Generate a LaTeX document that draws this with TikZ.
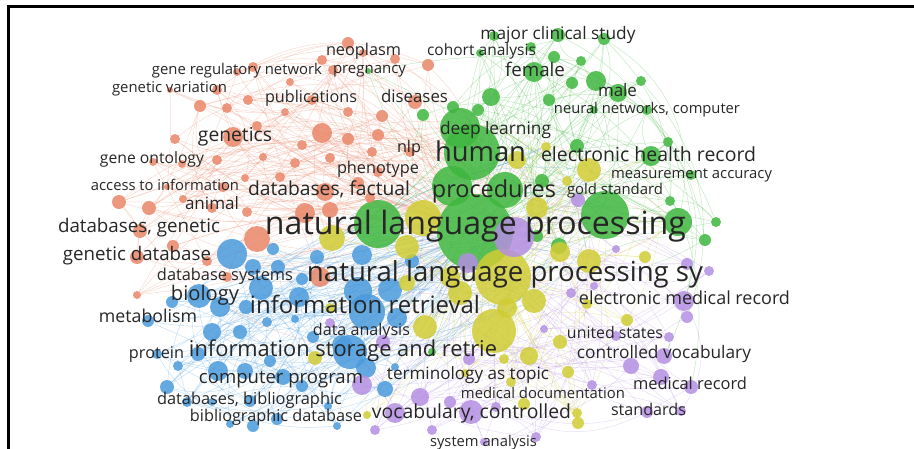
\documentclass[tikz,border=0pt]{standalone}
\usepackage{fontspec}
\setmainfont{Open Sans}
\usepackage{graphicx}
\usetikzlibrary{backgrounds}

\definecolor{cO}{RGB}{233,134,104}
\definecolor{cG}{RGB}{62,182,62}
\definecolor{cB}{RGB}{74,154,220}
\definecolor{cY}{RGB}{208,204,52}
\definecolor{cP}{RGB}{180,142,226}
\definecolor{lblc}{RGB}{38,38,38}

% bubble: name, colour, x, y, radius
\newcommand\bb[5]{\node[bub,fill=#2,minimum size=#5*2pt] (#1) at (#3,#4) {};}
% label: name, x, baseline y, width, text
\newcommand\lb[5]{\node[lbl] (#1) at (#2,#3) {\resizebox{#4pt}{!}{#5}};}
% link from a node to a random member of a group (prefix, count)
\newcommand\randlink[4]{%
  \pgfmathrandominteger{\rk}{1}{#3}%
  \pgfmathsetmacro\bnd{rand*32}%
  \draw[link,#4] (#1) to[bend left=\bnd] (#2\rk);}

\begin{document}
\begin{tikzpicture}[x=1pt,y=-1pt,
  bub/.style={circle,inner sep=0pt,draw=none,fill opacity=0.85},
  lbl/.style={inner sep=0pt,anchor=base,text=lblc},
  link/.style={line width=0.5pt,opacity=0.3}]
\useasboundingbox (0,0) rectangle (914,449);

% ---------- green cluster ----------
\bb{g1}{cG}{475}{232}{38}
\bb{g2}{cG}{472}{152}{28}
\bb{g3}{cG}{460}{128}{20}
\bb{g4}{cG}{452}{186}{20}
\bb{g5}{cG}{378}{224}{24}
\bb{g6}{cG}{605}{215}{24}
\bb{g7}{cG}{678}{222}{14}
\bb{g8}{cG}{505}{190}{18}
\bb{g9}{cG}{651}{156}{10}
\bb{g10}{cG}{577}{146}{7}
\bb{g11}{cG}{668}{142}{5}
\bb{g12}{cG}{670}{201}{5}
\bb{g13}{cG}{691}{175}{5}
\bb{g14}{cG}{705}{240}{6}
\bb{g15}{cG}{716}{222}{5}
\bb{g16}{cG}{494}{36}{5}
\bb{g17}{cG}{558}{35}{7}
\bb{g18}{cG}{604}{39}{6}
\bb{g19}{cG}{480}{53}{4}
\bb{g20}{cG}{531}{47}{5}
\bb{g21}{cG}{554}{57}{6}
\bb{g22}{cG}{581}{61}{5}
\bb{g23}{cG}{534}{72}{10}
\bb{g24}{cG}{572}{83}{6}
\bb{g25}{cG}{596}{81}{10}
\bb{g26}{cG}{641}{81}{5}
\bb{g27}{cG}{618}{93}{9}
\bb{g28}{cG}{549}{100}{6}
\bb{g29}{cG}{491}{97}{9}
\bb{g30}{cG}{478}{110}{6}
\bb{g31}{cG}{423}{115}{6}
\bb{g32}{cG}{453}{107}{6}
\bb{g33}{cG}{647}{110}{5}
\bb{g34}{cG}{594}{110}{4}
\bb{g35}{cG}{559}{246}{8}
\bb{g36}{cG}{537}{236}{6}
\bb{g37}{cG}{368}{71}{3}
\bb{g38}{cG}{432}{352}{4}
\bb{g39}{cG}{542}{181}{7}

% ---------- orange cluster ----------
\bb{o1}{cO}{348}{43}{6}
\bb{o2}{cO}{322}{60}{5}
\bb{o3}{cO}{363}{53}{4}
\bb{o4}{cO}{395}{59}{5}
\bb{o5}{cO}{428}{65}{6}
\bb{o6}{cO}{333}{70}{5}
\bb{o7}{cO}{290}{82}{4}
\bb{o8}{cO}{253}{67}{5}
\bb{o9}{cO}{237}{72}{4}
\bb{o10}{cO}{170}{90}{3}
\bb{o11}{cO}{217}{90}{5}
\bb{o12}{cO}{200}{106}{6}
\bb{o13}{cO}{227}{108}{5}
\bb{o14}{cO}{248}{100}{5}
\bb{o15}{cO}{285}{112}{4}
\bb{o16}{cO}{312}{100}{5}
\bb{o17}{cO}{348}{112}{5}
\bb{o18}{cO}{382}{116}{6}
\bb{o19}{cO}{415}{102}{7}
\bb{o20}{cO}{378}{135}{6}
\bb{o21}{cO}{322}{133}{10}
\bb{o22}{cO}{348}{139}{6}
\bb{o23}{cO}{302}{145}{5}
\bb{o24}{cO}{257}{126}{5}
\bb{o25}{cO}{233}{137}{10}
\bb{o26}{cO}{175}{139}{5}
\bb{o27}{cO}{217}{160}{5}
\bb{o28}{cO}{182}{164}{4}
\bb{o29}{cO}{153}{162}{4}
\bb{o30}{cO}{263}{157}{4}
\bb{o31}{cO}{295}{163}{5}
\bb{o32}{cO}{330}{158}{5}
\bb{o33}{cO}{372}{152}{5}
\bb{o34}{cO}{410}{152}{5}
\bb{o35}{cO}{378}{172}{5}
\bb{o36}{cO}{358}{183}{6}
\bb{o37}{cO}{280}{177}{5}
\bb{o38}{cO}{245}{178}{4}
\bb{o39}{cO}{223}{187}{5}
\bb{o40}{cO}{167}{187}{3}
\bb{o41}{cO}{325}{192}{9}
\bb{o42}{cO}{370}{198}{5}
\bb{o43}{cO}{183}{199}{4}
\bb{o44}{cO}{119}{202}{7}
\bb{o45}{cO}{149}{208}{7}
\bb{o46}{cO}{212}{208}{5}
\bb{o47}{cO}{247}{212}{5}
\bb{o48}{cO}{305}{213}{10}
\bb{o49}{cO}{330}{210}{8}
\bb{o50}{cO}{140}{231}{7}
\bb{o51}{cO}{173}{246}{6}
\bb{o52}{cO}{257}{239}{13}
\bb{o53}{cO}{137}{257}{7}
\bb{o54}{cO}{207}{261}{5}
\bb{o55}{cO}{227}{277}{5}
\bb{o56}{cO}{137}{295}{4}
\bb{o57}{cO}{320}{277}{10}

% ---------- blue cluster ----------
\bb{b1}{cB}{232}{254}{15}
\bb{b2}{cB}{273}{249}{6}
\bb{b3}{cB}{317}{257}{7}
\bb{b4}{cB}{362}{255}{10}
\bb{b5}{cB}{412}{261}{7}
\bb{b6}{cB}{253}{267}{8}
\bb{b7}{cB}{278}{267}{7}
\bb{b8}{cB}{302}{279}{6}
\bb{b9}{cB}{261}{288}{12}
\bb{b10}{cB}{199}{296}{12}
\bb{b11}{cB}{220}{307}{10}
\bb{b12}{cB}{172}{302}{6}
\bb{b13}{cB}{246}{307}{7}
\bb{b14}{cB}{299}{297}{10}
\bb{b15}{cB}{358}{291}{14}
\bb{b16}{cB}{390}{290}{12}
\bb{b17}{cB}{367}{312}{18}
\bb{b18}{cB}{397}{318}{10}
\bb{b19}{cB}{267}{322}{5}
\bb{b20}{cB}{295}{319}{4}
\bb{b21}{cB}{148}{321}{6}
\bb{b22}{cB}{212}{332}{9}
\bb{b23}{cB}{240}{332}{7}
\bb{b24}{cB}{313}{337}{6}
\bb{b25}{cB}{342}{345}{10}
\bb{b26}{cB}{350}{352}{17}
\bb{b27}{cB}{198}{354}{7}
\bb{b28}{cB}{157}{354}{5}
\bb{b29}{cB}{178}{366}{5}
\bb{b30}{cB}{218}{371}{10}
\bb{b31}{cB}{245}{371}{8}
\bb{b32}{cB}{270}{361}{6}
\bb{b33}{cB}{283}{377}{8}
\bb{b34}{cB}{302}{386}{6}
\bb{b35}{cB}{366}{368}{10}
\bb{b36}{cB}{385}{389}{8}
\bb{b37}{cB}{395}{367}{4}
\bb{b38}{cB}{167}{387}{7}
\bb{b39}{cB}{187}{402}{5}
\bb{b40}{cB}{212}{402}{4}
\bb{b41}{cB}{250}{401}{6}
\bb{b42}{cB}{328}{406}{4}
\bb{b43}{cB}{277}{419}{6}
\bb{b44}{cB}{253}{426}{6}
\bb{b45}{cB}{230}{424}{4}
\bb{b46}{cB}{337}{426}{4}

% ---------- yellow cluster ----------
\bb{y1}{cY}{503}{277}{28}
\bb{y2}{cY}{494}{331}{22}
\bb{y3}{cY}{423}{218}{18}
\bb{y4}{cY}{332}{238}{13}
\bb{y5}{cY}{425}{327}{12}
\bb{y6}{cY}{537}{208}{11}
\bb{y7}{cY}{589}{170}{12}
\bb{y8}{cY}{517}{160}{9}
\bb{y9}{cY}{546}{147}{5}
\bb{y10}{cY}{567}{181}{5}
\bb{y11}{cY}{560}{252}{10}
\bb{y12}{cY}{589}{261}{12}
\bb{y13}{cY}{407}{247}{12}
\bb{y14}{cY}{460}{293}{12}
\bb{y15}{cY}{507}{308}{10}
\bb{y16}{cY}{534}{301}{12}
\bb{y17}{cY}{560}{342}{7}
\bb{y18}{cY}{529}{356}{9}
\bb{y19}{cY}{504}{359}{5}
\bb{y20}{cY}{568}{372}{6}
\bb{y21}{cY}{511}{382}{5}
\bb{y22}{cY}{465}{373}{4}
\bb{y23}{cY}{524}{404}{6}
\bb{y24}{cY}{577}{413}{5}
\bb{y25}{cY}{578}{423}{6}
\bb{y26}{cY}{627}{320}{6}
\bb{y27}{cY}{645}{257}{6}
\bb{y28}{cY}{587}{304}{5}
\bb{y29}{cY}{315}{358}{7}
\bb{y30}{cY}{367}{415}{4}
\bb{y31}{cY}{450}{277}{10}
\bb{y32}{cY}{407}{283}{8}
\bb{y33}{cY}{330}{308}{5}

% ---------- purple cluster ----------
\bb{p1}{cP}{514}{237}{20}
\bb{p2}{cP}{468}{263}{10}
\bb{p3}{cP}{578}{200}{7}
\bb{p4}{cP}{616}{249}{4}
\bb{p5}{cP}{687}{264}{6}
\bb{p6}{cP}{709}{271}{5}
\bb{p7}{cP}{594}{286}{4}
\bb{p8}{cP}{571}{293}{5}
\bb{p9}{cP}{684}{301}{10}
\bb{p10}{cP}{687}{317}{6}
\bb{p11}{cP}{544}{329}{4}
\bb{p12}{cP}{616}{336}{5}
\bb{p13}{cP}{669}{337}{5}
\bb{p14}{cP}{664}{356}{8}
\bb{p15}{cP}{631}{366}{8}
\bb{p16}{cP}{592}{385}{5}
\bb{p17}{cP}{661}{377}{8}
\bb{p18}{cP}{691}{387}{7}
\bb{p19}{cP}{469}{359}{6}
\bb{p20}{cP}{496}{407}{5}
\bb{p21}{cP}{471}{412}{12}
\bb{p22}{cP}{647}{412}{6}
\bb{p23}{cP}{681}{411}{5}
\bb{p24}{cP}{536}{437}{5}
\bb{p25}{cP}{484}{442}{4}
\bb{p26}{cP}{420}{397}{9}
\bb{p27}{cP}{450}{402}{6}
\bb{p28}{cP}{395}{413}{10}
\bb{p29}{cP}{383}{342}{7}
\bb{p30}{cP}{330}{323}{5}
\bb{p31}{cP}{362}{385}{10}
\bb{p32}{cP}{375}{430}{5}
\bb{p33}{cP}{432}{430}{5}

% ---------- links, behind the bubbles ----------
\begin{pgfonlayer}{background}
\pgfmathsetseed{17}
\foreach \i in {1,...,57}{
  \pgfmathsetmacro\bnd{rand*28}
  \draw[link,cO] (o\i) to[bend left=\bnd] (g1);
  \randlink{o\i}{o}{57}{cO}
  \randlink{o\i}{o}{57}{cO}
  \randlink{o\i}{g}{8}{cO}
}
\foreach \i in {2,...,39}{
  \pgfmathsetmacro\bnd{rand*30}
  \draw[link,cG] (g\i) to[bend left=\bnd] (g1);
  \randlink{g\i}{g}{39}{cG}
  \randlink{g\i}{g}{39}{cG}
  \randlink{g\i}{y}{12}{cG}
}
\foreach \i in {1,...,46}{
  \pgfmathsetmacro\bnd{rand*25}
  \draw[link,cB] (b\i) to[bend left=\bnd] (g1);
  \randlink{b\i}{b}{46}{cB}
  \randlink{b\i}{b}{46}{cB}
  \randlink{b\i}{y}{16}{cB}
}
\foreach \i in {2,...,33}{
  \pgfmathsetmacro\bnd{rand*25}
  \draw[link,cY] (y\i) to[bend left=\bnd] (y1);
  \randlink{y\i}{y}{33}{cY}
  \randlink{y\i}{g}{10}{cY}
}
\foreach \i in {1,...,33}{
  \pgfmathsetmacro\bnd{rand*25}
  \draw[link,cP] (p\i) to[bend left=\bnd] (g1);
  \randlink{p\i}{p}{33}{cP}
  \randlink{p\i}{p}{33}{cP}
  \randlink{p\i}{y}{20}{cP}
}
% long sweeping arcs
\draw[link,cG] (g17) to[bend left=45] (p14);
\draw[link,cG] (g25) to[bend left=40] (p9);
\draw[link,cG] (g23) to[bend left=38] (p18);
\draw[link,cG] (g18) to[bend left=35] (g7);
\draw[link,cG] (g26) to[bend left=30] (p10);
\draw[link,cG] (g16) to[bend left=25] (y2);
\draw[link,cO] (o1) to[bend right=30] (b17);
\draw[link,cO] (o3) to[bend right=25] (y2);
\draw[link,cO] (o5) to[bend right=20] (p1);
\draw[link,cO] (o44) to[bend right=20] (b26);
\end{pgfonlayer}

% ---------- labels ----------
\lb{l1}{558}{40}{155}{major clinical study}
\lb{l2}{481.5}{56}{109}{cohort analysis}
\lb{l3}{535}{77}{60}{female}
\lb{l4}{617.5}{97}{39}{male}
\lb{l5}{647}{114}{186}{neural networks, computer}
\lb{l6}{495.5}{135}{111}{deep learning}
\lb{l7}{480.5}{162}{91}{human}
\lb{l8}{648.5}{162}{215}{electronic health record}
\lb{l9}{691.5}{179}{161}{measurement accuracy}
\lb{l10}{494}{198}{124}{procedures}
\lb{l11}{615}{195}{96}{gold standard}
\lb{l12}{475.5}{235}{421}{natural language processing}
\lb{l13}{505}{282}{396}{natural language processing sy}
\lb{l14}{684.5}{305}{211}{electronic medical record}
\lb{l15}{615}{338}{96}{united states}
\lb{l16}{664}{359}{174}{controlled vocabulary}
\lb{l17}{690}{390}{114}{medical record}
\lb{l18}{648.5}{415}{75}{standards}
\lb{l19}{483.5}{446}{107}{system analysis}
\lb{l20}{471.5}{418}{199}{vocabulary, controlled}
\lb{l21}{543}{399}{164}{medical documentation}
\lb{l22}{468}{380}{162}{terminology as topic}
\lb{l23}{361.5}{335}{97}{data analysis}
\lb{l24}{365}{314}{230}{information retrieval}
\lb{l25}{343}{357}{308}{information storage and retrie}
\lb{l26}{281}{383}{164}{computer program}
\lb{l27}{249.5}{405}{185}{databases, bibliographic}
\lb{l28}{276}{421}{172}{bibliographic database}
\lb{l29}{156.5}{359}{55}{protein}
\lb{l30}{148}{323}{98}{metabolism}
\lb{l31}{205}{301}{68}{biology}
\lb{l32}{225}{281}{136}{database systems}
\lb{l33}{137}{261}{148}{genetic database}
\lb{l34}{139}{233}{162}{databases, genetic}
\lb{l35}{212}{210}{54}{animal}
\lb{l36}{165}{191}{148}{access to information}
\lb{l37}{329}{196}{162}{databases, factual}
\lb{l38}{378}{174}{82}{phenotype}
\lb{l39}{152}{164}{104}{gene ontology}
\lb{l40}{409}{153}{24}{nlp}
\lb{l41}{235}{142}{74}{genetics}
\lb{l42}{311}{103}{92}{publications}
\lb{l43}{414.5}{103}{67}{diseases}
\lb{l44}{169.5}{93}{115}{genetic variation}
\lb{l45}{237}{75}{170}{gene regulatory network}
\lb{l46}{369.5}{74}{73}{pregnancy}
\lb{l47}{363.5}{56}{75}{neoplasm}

% ---------- frame ----------
\draw[line width=2.7pt] (8.7,449) -- (8.7,6.3) -- (914,6.3);
\end{tikzpicture}
\end{document}
